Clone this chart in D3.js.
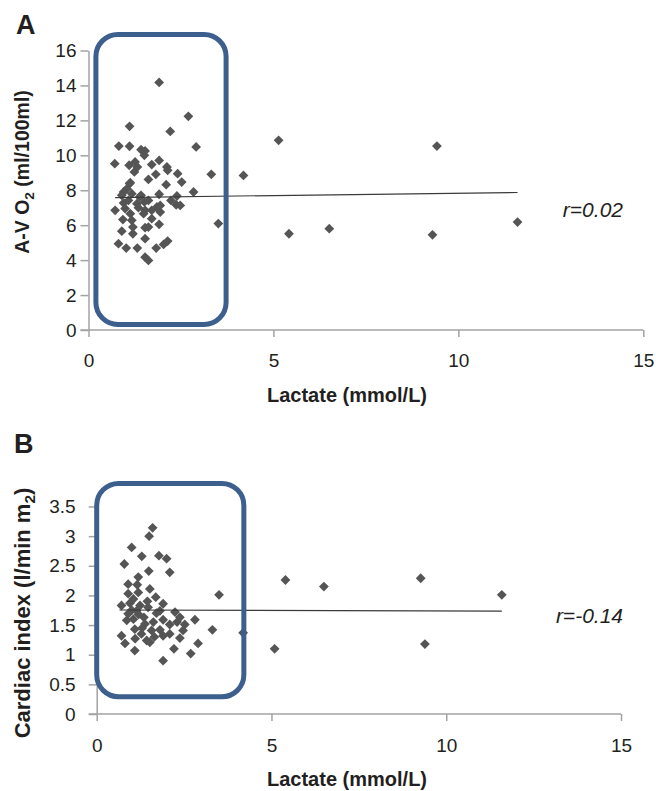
<!DOCTYPE html>
<html>
<head>
<meta charset="utf-8">
<script src="https://cdn.jsdelivr.net/npm/d3@7"></script>
<style>
  body { margin: 0; background: #fff; }
  svg { display: block; font-family: "Liberation Sans", Arial, sans-serif; }
</style>
</head>
<body>
<div id="chart"></div>
<script>
// panel A: lactate vs A-V O2
const lactateA = [1.91, 2.70, 1.11, 2.21, 0.82, 1.11, 2.91, 1.42, 1.53, 1.51, 0.71, 1.10, 1.26, 1.32, 1.91, 1.71,
  1.24, 2.12, 2.14, 1.82, 2.41, 3.32, 4.19, 1.62, 2.52, 1.11, 2.10, 1.04, 0.95, 2.84, 0.90, 1.17, 1.42, 1.91,
  2.39, 2.23, 2.37, 0.95, 1.08, 1.31, 1.51, 1.62, 1.85, 0.72, 0.99, 1.35, 1.53, 1.71, 1.94, 1.13, 1.49, 0.93,
  1.17, 1.71, 3.51, 1.91, 1.20, 1.53, 1.62, 0.90, 1.20, 1.53, 0.81, 1.02, 1.32, 1.83, 2.03, 2.14, 1.53, 1.62,
  1.13, 1.38, 2.48, 1.94, 5.14, 9.42, 5.42, 6.51, 9.30, 11.6];
const avo2A = [14.17, 12.23, 11.66, 11.37, 10.53, 10.52, 10.48, 10.32, 10.25, 10.0, 9.52, 9.43, 9.62, 9.33, 9.71, 9.47,
  9.05, 9.33, 9.14, 8.91, 8.95, 8.91, 8.85, 8.62, 8.47, 8.38, 8.32, 8.09, 7.90, 7.90, 7.71, 7.80, 7.71, 7.77,
  7.67, 7.42, 7.17, 7.27, 7.42, 7.23, 7.33, 7.42, 7.04, 6.85, 6.95, 7.0, 6.85, 6.85, 6.75, 6.66, 6.66, 6.32,
  6.28, 6.37, 6.09, 6.05, 5.89, 5.86, 5.89, 5.66, 5.51, 5.23, 4.94, 4.69, 4.69, 4.69, 4.90, 5.09, 4.17, 3.98,
  8.43, 7.61, 7.13, 7.13, 10.86, 10.53, 5.51, 5.80, 5.45, 6.18];
const trendA = [[0.72, 7.58], [11.6, 7.87]];
const boxA = [[0.2, 16.92], [3.72, 0.32]];

// panel B: lactate vs cardiac index
const lactateB = [1.60, 1.50, 1.00, 1.29, 1.78, 2.00, 0.79, 1.49, 2.09, 1.19, 0.90, 1.16, 1.52, 3.50, 0.90, 1.19,
  1.69, 0.71, 0.95, 1.90, 1.47, 1.14, 2.24, 0.90, 1.71, 2.38, 1.05, 1.35, 1.90, 2.81, 2.52, 2.09, 1.62, 3.31,
  1.09, 1.57, 1.81, 2.09, 2.47, 4.19, 0.71, 1.28, 1.10, 1.43, 1.90, 2.38, 0.81, 2.90, 1.52, 2.21, 1.09, 2.69,
  1.90, 0.86, 1.24, 1.38, 1.81, 1.05, 1.20, 1.45, 1.30, 1.65, 1.00, 2.30,
  5.40, 6.50, 9.27, 11.59, 5.09, 9.39];
const ciB = [3.14, 3.00, 2.81, 2.66, 2.67, 2.62, 2.53, 2.41, 2.39, 2.31, 2.19, 2.18, 2.11, 2.01, 2.03, 2.05,
  1.97, 1.83, 1.87, 1.86, 1.80, 1.74, 1.72, 1.69, 1.70, 1.63, 1.60, 1.63, 1.59, 1.59, 1.51, 1.51, 1.55, 1.42,
  1.43, 1.41, 1.42, 1.35, 1.41, 1.37, 1.32, 1.35, 1.27, 1.24, 1.32, 1.28, 1.19, 1.19, 1.21, 1.10, 1.07, 1.02,
  0.90, 1.58, 1.83, 1.52, 1.74, 1.94, 1.68, 1.90, 1.45, 1.30, 1.75, 1.55,
  2.26, 2.15, 2.29, 2.01, 1.10, 1.18];
const trendB = [[0.65, 1.755], [11.59, 1.735]];
const boxB = [[0.0, 3.89], [4.21, 0.29]];

const xTicks = [0, 5, 10, 15];
const yTicksA = [0, 2, 4, 6, 8, 10, 12, 14, 16];
const yTicksB = [0, 0.5, 1, 1.5, 2, 2.5, 3, 3.5];

const width = 656, height = 791;
const axisColor = "#a3a3a3", textColor = "#231f20", markColor = "#555555", boxColor = "#3c5f8e";

const svg = d3.select("#chart").append("svg")
    .attr("width", width)
    .attr("height", height);

function drawPanel(cfg) {
    const x = d3.scaleLinear().domain([0, 15]).range(cfg.xRange);
    const y = d3.scaleLinear().domain(cfg.yDomain).range(cfg.yRange);
    const g = svg.append("g");

    // x axis
    const xAxis = g.append("g")
        .attr("transform", `translate(0,${cfg.yRange[0]})`)
        .call(d3.axisBottom(x).tickValues(xTicks).tickSize(7).tickSizeOuter(7).tickPadding(cfg.xPad));
    // y axis
    const yAxis = g.append("g")
        .attr("transform", `translate(${cfg.xRange[0]},0)`)
        .call(d3.axisLeft(y).tickValues(cfg.yTicks).tickSize(8).tickSizeOuter(0)
            .tickPadding(cfg.yPad).tickFormat(d => String(d)));
    [xAxis, yAxis].forEach(a => {
        a.selectAll("path, line").attr("stroke", axisColor).attr("stroke-width", 1.5);
        a.selectAll("text").attr("fill", textColor).style("font-size", "19px");
    });
    xAxis.select(".domain").attr("d", `M${cfg.xRange[0] - 8},0H${cfg.xRange[1]}`);
    xAxis.selectAll(".tick line").attr("y1", 0);

    // points
    g.append("g").selectAll("path")
        .data(d3.zip(cfg.xs, cfg.ys))
        .join("path")
        .attr("d", d3.symbol(d3.symbolSquare, 48))
        .attr("transform", d => `translate(${x(d[0])},${y(d[1])}) rotate(45)`)
        .attr("fill", markColor);

    // trend line
    g.append("path")
        .datum(cfg.trend)
        .attr("d", d3.line().x(d => x(d[0])).y(d => y(d[1])))
        .attr("fill", "none")
        .attr("stroke", "#3a3a3a")
        .attr("stroke-width", 1.1);

    // highlight box
    const [b0, b1] = cfg.box;
    g.append("rect")
        .attr("x", x(b0[0])).attr("y", y(b0[1]))
        .attr("width", x(b1[0]) - x(b0[0]))
        .attr("height", y(b1[1]) - y(b0[1]))
        .attr("rx", 22).attr("ry", 22)
        .attr("fill", "none")
        .attr("stroke", boxColor)
        .attr("stroke-width", 5);

    // r label
    g.append("text")
        .attr("x", cfg.rPos[0]).attr("y", cfg.rPos[1])
        .attr("text-anchor", "end")
        .attr("fill", textColor)
        .style("font-size", "21px")
        .style("font-style", "italic")
        .text(cfg.rText);

    // x title
    g.append("text")
        .attr("x", 347).attr("y", cfg.xTitleY)
        .attr("text-anchor", "middle")
        .attr("fill", textColor)
        .style("font-size", "20px")
        .style("font-weight", "bold")
        .text("Lactate (mmol/L)");

    // y title with subscript
    const yt = g.append("text")
        .attr("transform", `translate(${cfg.yTitlePos[0]},${cfg.yTitlePos[1]}) rotate(-90)`)
        .attr("text-anchor", "middle")
        .attr("fill", textColor)
        .style("font-size", cfg.yTitleSize)
        .style("font-weight", "bold");
    yt.append("tspan").text(cfg.yTitle[0]);
    yt.append("tspan").attr("dy", 5).style("font-size", "70%").text("2");
    yt.append("tspan").attr("dy", -5).text(cfg.yTitle[1]);

    // panel letter
    g.append("text")
        .attr("x", cfg.letterPos[0]).attr("y", cfg.letterPos[1])
        .attr("fill", textColor)
        .style("font-size", "27px")
        .style("font-weight", "bold")
        .text(cfg.letter);
}

drawPanel({
    xs: lactateA, ys: avo2A, trend: trendA, box: boxA,
    xRange: [88.5, 643.3], yDomain: [0, 16], yRange: [330, 50.5], yTicks: yTicksA,
    xPad: 17, yPad: 4,
    rText: "r=0.02", rPos: [623, 217],
    xTitleY: 402,
    yTitle: ["A-V O", " (ml/100ml)"], yTitlePos: [29, 172], yTitleSize: "19.5px",
    letter: "A", letterPos: [16, 34]
});

drawPanel({
    xs: lactateB, ys: ciB, trend: trendB, box: boxB,
    xRange: [96.7, 621], yDomain: [0, 3.5], yRange: [714, 506.5], yTicks: yTicksB,
    xPad: 18, yPad: 13,
    rText: "r=-0.14", rPos: [623, 623],
    xTitleY: 786,
    yTitle: ["Cardiac index (l/min m", ")"], yTitlePos: [30, 613], yTitleSize: "22px",
    letter: "B", letterPos: [14, 453]
});
</script>
</body>
</html>
